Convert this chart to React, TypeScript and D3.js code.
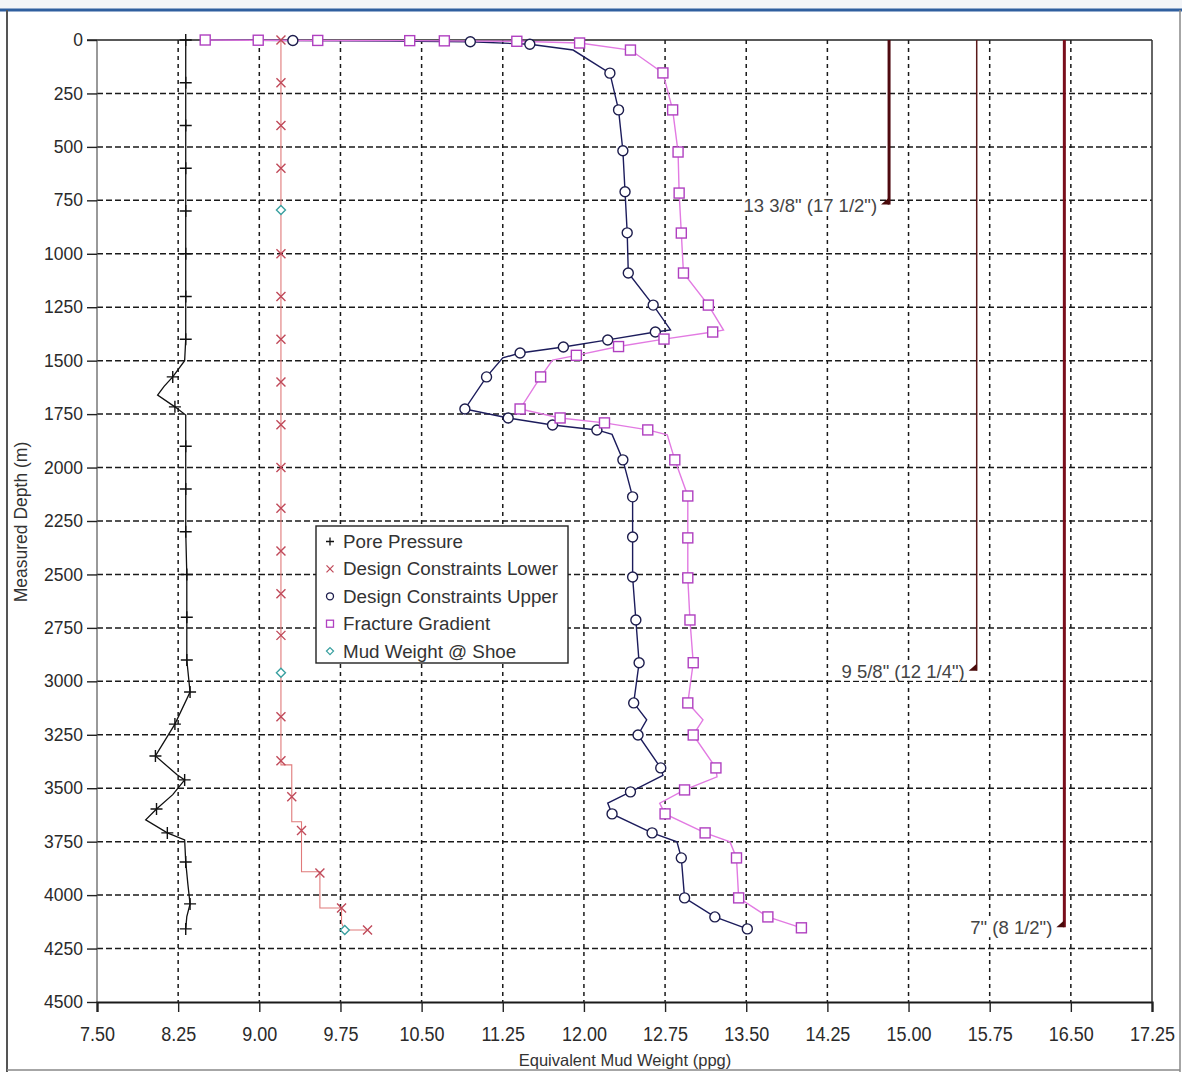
import React, { useEffect, useRef } from "react";
import * as d3 from "d3";

const W = 1182;
const H = 1072;

// tick values
const xTickValues = [7.5, 8.25, 9.0, 9.75, 10.5, 11.25, 12.0, 12.75, 13.5, 14.25, 15.0, 15.75, 16.5, 17.25];
const yTickValues = [0, 250, 500, 750, 1000, 1250, 1500, 1750, 2000, 2250, 2500, 2750, 3000, 3250, 3500, 3750, 4000, 4250, 4500];

// [depth m, ppg]
const porePressureLine: [number, number][] = [
  [0, 8.32], [200, 8.32], [400, 8.32], [600, 8.32], [800, 8.32], [1000, 8.32], [1200, 8.32], [1400, 8.32],
  [1500, 8.31], [1576, 8.2], [1620, 8.12], [1661, 8.06], [1716, 8.22], [1754, 8.32], [1900, 8.32],
  [2100, 8.32], [2300, 8.32], [2500, 8.33], [2700, 8.33], [2900, 8.33], [3050, 8.36], [3200, 8.22],
  [3349, 8.04], [3437, 8.24], [3461, 8.31], [3530, 8.2], [3597, 8.05], [3648, 7.95], [3709, 8.15],
  [3742, 8.31], [3845, 8.32], [3950, 8.34], [4041, 8.36], [4100, 8.33], [4158, 8.32],
];
const porePressureMarks: [number, number][] = [
  [0, 8.32], [200, 8.32], [400, 8.32], [600, 8.32], [800, 8.32], [1000, 8.32], [1200, 8.32], [1400, 8.32],
  [1576, 8.2], [1716, 8.22], [1900, 8.32], [2100, 8.32], [2300, 8.32], [2500, 8.33], [2700, 8.33],
  [2900, 8.33], [3050, 8.36], [3200, 8.22], [3349, 8.04], [3461, 8.31], [3597, 8.05], [3709, 8.15],
  [3845, 8.32], [4041, 8.36], [4158, 8.32],
];

const lowerLine: [number, number][] = [
  [0, 9.2], [3391, 9.2], [3391, 9.3], [3657, 9.3], [3657, 9.39], [3891, 9.39], [3891, 9.56],
  [4060, 9.56], [4060, 9.76], [4130, 9.76], [4163, 9.79], [4163, 10.0],
];
const lowerMarks: [number, number][] = [
  [0, 9.2], [200, 9.2], [400, 9.2], [600, 9.2], [1000, 9.2], [1200, 9.2], [1400, 9.2], [1600, 9.2],
  [1800, 9.2], [2000, 9.2], [2190, 9.2], [2390, 9.2], [2590, 9.2], [2785, 9.2], [3166, 9.2], [3372, 9.2],
  [3540, 9.3], [3698, 9.39], [3897, 9.56], [4060, 9.76], [4163, 10.0],
];

const upperLine: [number, number][] = [
  [0, 8.45], [2, 9.31], [5, 10.2], [8, 10.95], [20, 11.5], [47, 11.9], [155, 12.24], [327, 12.32],
  [518, 12.36], [710, 12.38], [902, 12.4], [1090, 12.41], [1240, 12.64], [1356, 12.8], [1366, 12.66],
  [1403, 12.22], [1436, 11.81], [1464, 11.41], [1487, 11.25], [1576, 11.1], [1726, 10.9], [1768, 11.3],
  [1801, 11.71], [1824, 12.12], [1845, 12.26], [1964, 12.36], [2137, 12.45], [2325, 12.45], [2512, 12.45],
  [2713, 12.48], [2913, 12.51], [3101, 12.46], [3180, 12.58], [3251, 12.5], [3405, 12.71], [3440, 12.73],
  [3517, 12.43], [3570, 12.22], [3620, 12.26], [3709, 12.63], [3751, 12.86], [3826, 12.9], [4013, 12.93],
  [4102, 13.21], [4158, 13.51],
];
const upperMarks: [number, number][] = [
  [2, 9.31], [8, 10.95], [20, 11.5], [155, 12.24], [327, 12.32], [518, 12.36], [710, 12.38], [902, 12.4],
  [1090, 12.41], [1240, 12.64], [1366, 12.66], [1403, 12.22], [1436, 11.81], [1464, 11.41], [1576, 11.1],
  [1726, 10.9], [1768, 11.3], [1801, 11.71], [1824, 12.12], [1964, 12.36], [2137, 12.45], [2325, 12.45],
  [2512, 12.45], [2713, 12.48], [2913, 12.51], [3101, 12.46], [3251, 12.5], [3405, 12.71], [3517, 12.43],
  [3620, 12.26], [3709, 12.63], [3826, 12.9], [4013, 12.93], [4102, 13.21], [4158, 13.51],
];

const fractureLine: [number, number][] = [
  [0, 8.5], [1, 8.99], [2, 9.54], [3, 10.39], [4, 10.71], [6, 11.38], [14, 11.96], [47, 12.43],
  [154, 12.73], [327, 12.82], [524, 12.87], [716, 12.88], [903, 12.9], [1090, 12.92], [1240, 13.15],
  [1357, 13.29], [1366, 13.19], [1399, 12.74], [1434, 12.32], [1475, 11.93], [1497, 11.71], [1576, 11.6],
  [1726, 11.41], [1768, 11.78], [1791, 12.19], [1824, 12.59], [1847, 12.77], [1964, 12.84], [2133, 12.96],
  [2329, 12.96], [2516, 12.96], [2713, 12.98], [2913, 13.01], [3101, 12.96], [3180, 13.1], [3251, 13.01],
  [3405, 13.22], [3447, 13.23], [3508, 12.93], [3570, 12.7], [3620, 12.75], [3709, 13.12], [3751, 13.35],
  [3826, 13.41], [4013, 13.43], [4102, 13.7], [4153, 14.01],
];
const fractureMarks: [number, number][] = [
  [0, 8.5], [1, 8.99], [2, 9.54], [3, 10.39], [4, 10.71], [6, 11.38], [14, 11.96], [47, 12.43],
  [154, 12.73], [327, 12.82], [524, 12.87], [716, 12.88], [903, 12.9], [1090, 12.92], [1240, 13.15],
  [1366, 13.19], [1399, 12.74], [1434, 12.32], [1475, 11.93], [1576, 11.6], [1726, 11.41], [1768, 11.78],
  [1791, 12.19], [1824, 12.59], [1964, 12.84], [2133, 12.96], [2329, 12.96], [2516, 12.96], [2713, 12.98],
  [2913, 13.01], [3101, 12.96], [3251, 13.01], [3405, 13.22], [3508, 12.93], [3620, 12.75], [3709, 13.12],
  [3826, 13.41], [4013, 13.43], [4102, 13.7], [4153, 14.01],
];

const mudWeightShoe: [number, number][] = [[795, 9.2], [2960, 9.2], [4163, 9.79]];

const casingLabels = ['13 3/8" (17 1/2")', '9 5/8" (12 1/4")', '7" (8 1/2")'];
const casingShoeDepths = [770, 2950, 4150];
const casingLanes = [14.82, 15.63, 16.44];

const legendNames = [
  "Pore Pressure",
  "Design Constraints Lower",
  "Design Constraints Upper",
  "Fracture Gradient",
  "Mud Weight @ Shoe",
];

const FONT = "'Liberation Sans', Arial, sans-serif";

const symbols: Record<string, (g: any, s: number) => void> = {
  plus: (g, s) => g.append("path").attr("d", `M${-s},0H${s}M0,${-s}V${s}`),
  cross: (g, s) => g.append("path").attr("d", `M${-s},${-s}L${s},${s}M${-s},${s}L${s},${-s}`),
  circle: (g, s) => g.append("circle").attr("r", s),
  square: (g, s) => g.append("rect").attr("x", -s).attr("y", -s).attr("width", 2 * s).attr("height", 2 * s),
  diamond: (g, s) => g.append("path").attr("d", `M0,${-s}L${s},0L0,${s}L${-s},0Z`),
};

export default function App() {
  const ref = useRef<SVGSVGElement>(null);

  useEffect(() => {
    const svg = d3.select(ref.current);
    svg.selectAll("*").remove();

    const left = 97, right = 1152, top = 40, bottom = 1002;
    const x = d3.scaleLinear().domain([7.5, 17.25]).range([left, right]);
    const y = d3.scaleLinear().domain([0, 4500]).range([top, bottom]);

    // window chrome
    svg.append("rect").attr("width", W).attr("height", H).attr("fill", "#fff");
    svg.append("rect").attr("width", W).attr("height", 9).attr("fill", "#f3f5f8");
    svg.append("line").attr("x1", 0).attr("x2", W).attr("y1", 10).attr("y2", 10)
      .attr("stroke", "#2f5f9f").attr("stroke-width", 3);
    svg.append("line").attr("x1", 7).attr("x2", 7).attr("y1", 10).attr("y2", H)
      .attr("stroke", "#555").attr("stroke-width", 2);
    svg.append("line").attr("x1", 1180).attr("x2", 1180).attr("y1", 10).attr("y2", H)
      .attr("stroke", "#888").attr("stroke-width", 1.5);
    svg.append("line").attr("x1", 7).attr("x2", 1180).attr("y1", 1070).attr("y2", 1070)
      .attr("stroke", "#888").attr("stroke-width", 1.5);

    // grid
    const grid = svg.append("g").attr("stroke", "#1a1a1a").attr("stroke-width", 1.5);
    grid.selectAll(".gx").data(xTickValues.slice(1, -1)).join("line")
      .attr("x1", (d) => x(d)).attr("x2", (d) => x(d)).attr("y1", top).attr("y2", bottom)
      .attr("stroke-dasharray", "4,4");
    grid.selectAll(".gy").data(yTickValues.slice(1, -1)).join("line")
      .attr("x1", left).attr("x2", right).attr("y1", (d) => y(d)).attr("y2", (d) => y(d))
      .attr("stroke-dasharray", "6,3");

    // frame
    svg.append("line").attr("x1", 87).attr("x2", right).attr("y1", top).attr("y2", top)
      .attr("stroke", "#222").attr("stroke-width", 1.5);
    svg.append("line").attr("x1", left).attr("x2", left).attr("y1", top).attr("y2", bottom)
      .attr("stroke", "#555").attr("stroke-width", 1.2);
    svg.append("line").attr("x1", right).attr("x2", right).attr("y1", top).attr("y2", bottom)
      .attr("stroke", "#333").attr("stroke-width", 1.5);

    // axes
    const yAxis = svg.append("g").attr("transform", `translate(${left},0)`)
      .call(d3.axisLeft(y).tickValues(yTickValues).tickSize(10).tickPadding(4).tickFormat(d3.format("d")));
    yAxis.select(".domain").remove();
    yAxis.selectAll("line").attr("stroke", "#222").attr("stroke-width", 1.4);
    yAxis.selectAll("text").attr("font-family", FONT).attr("font-size", 17.5).attr("fill", "#2a2a2a");

    const xAxis = svg.append("g").attr("transform", `translate(0,${bottom})`)
      .call(d3.axisBottom(x).tickValues(xTickValues).tickSize(10).tickFormat(d3.format(".2f")));
    xAxis.select(".domain").attr("stroke", "#1a1a1a").attr("stroke-width", 2.2);
    xAxis.selectAll("line").attr("stroke", "#222").attr("stroke-width", 1.4);
    xAxis.selectAll("text").attr("font-family", FONT).attr("font-size", 18).attr("fill", "#2a2a2a")
      .attr("y", 33.5).attr("dy", 0).attr("transform", "scale(1,1.15)");

    svg.append("text").attr("x", 625).attr("y", 1066).attr("text-anchor", "middle")
      .attr("font-family", FONT).attr("font-size", 16.5).attr("fill", "#333")
      .text("Equivalent Mud Weight (ppg)");
    svg.append("text").attr("transform", "translate(27,522) rotate(-90)").attr("text-anchor", "middle")
      .attr("font-family", FONT).attr("font-size", 17.5).attr("fill", "#333")
      .text("Measured Depth (m)");

    // casings
    const casingWidths = [3, 1.5, 3];
    const casingColors = ["#4f0a10", "#5a1a1a", "#7a0f1c"];
    casingLabels.forEach((label, i) => {
      const cx = x(casingLanes[i]);
      const cy = y(casingShoeDepths[i]);
      svg.append("line").attr("x1", cx).attr("x2", cx).attr("y1", top).attr("y2", cy)
        .attr("stroke", casingColors[i]).attr("stroke-width", casingWidths[i]);
      svg.append("path").attr("d", `M${cx},${cy - 7}L${cx},${cy}L${cx - 8},${cy}Z`).attr("fill", "#4a0a0a");
      const t = svg.append("text").attr("x", cx - 12).attr("y", cy + 7).attr("text-anchor", "end")
        .attr("font-family", FONT).attr("font-size", 18.5).attr("fill", "#444").text(label);
      const bb = (t.node() as SVGTextElement).getBBox();
      svg.insert("rect", () => t.node() as any)
        .attr("x", bb.x - 1).attr("y", bb.y + 1).attr("width", bb.width + 2).attr("height", bb.height - 2)
        .attr("fill", "#fff");
    });

    const line = d3.line<[number, number]>().x((d) => x(d[1])).y((d) => y(d[0]));

    const series = [
      { line: porePressureLine, marks: porePressureMarks, color: "#111", mark: "#111", sym: "plus", size: 6, lw: 1.3 },
      { line: lowerLine, marks: lowerMarks, color: "#e07a7a", mark: "#c04a5a", sym: "cross", size: 4.5, lw: 1.1 },
      { line: upperLine, marks: upperMarks, color: "#1c1c5c", mark: "#1c1c4c", sym: "circle", size: 5, lw: 1.4 },
      { line: fractureLine, marks: fractureMarks, color: "#e27ae2", mark: "#b040c0", sym: "square", size: 5, lw: 1.4 },
      { line: null, marks: mudWeightShoe, color: "#3aa0a0", mark: "#3aa0a0", sym: "diamond", size: 4.5, lw: 1 },
    ];

    series.forEach((s) => {
      if (s.line) {
        svg.append("path").attr("d", line(s.line) as string).attr("fill", "none")
          .attr("stroke", s.color).attr("stroke-width", s.lw);
      }
    });
    series.forEach((s) => {
      s.marks.forEach((p) => {
        const g = svg.append("g").attr("transform", `translate(${x(p[1])},${y(p[0])})`)
          .attr("fill", "#fff").attr("stroke", s.mark).attr("stroke-width", 1.4);
        symbols[s.sym](g, s.size);
      });
    });

    // legend
    const lg = svg.append("g").attr("transform", "translate(316,526)");
    lg.append("rect").attr("width", 252).attr("height", 137).attr("fill", "#fff")
      .attr("stroke", "#222").attr("stroke-width", 1.4);
    legendNames.forEach((name, i) => {
      const s = series[i];
      const row = lg.append("g").attr("transform", `translate(0,${15.5 + i * 27.4})`);
      const g = row.append("g").attr("transform", "translate(14,0)")
        .attr("fill", "#fff").attr("stroke", s.mark).attr("stroke-width", 1.3);
      symbols[s.sym](g, s.sym === "plus" ? 4 : 3.5);
      row.append("text").attr("x", 27).attr("y", 6.5).attr("font-family", FONT)
        .attr("font-size", 18.8).attr("fill", "#333").text(name);
    });
  }, []);

  return (
    <div style={{ position: "absolute", left: 0, top: 0 }}>
      <svg ref={ref} width={W} height={H} style={{ display: "block" }} />
    </div>
  );
}
